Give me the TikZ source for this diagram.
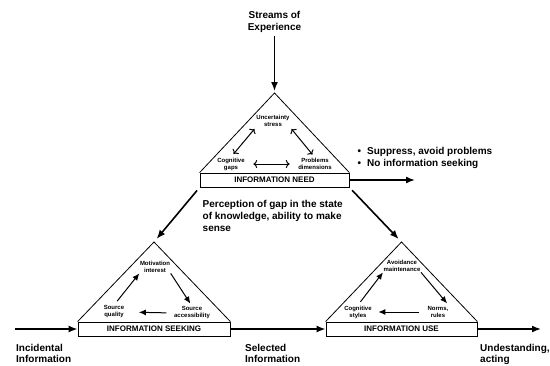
\documentclass[tikz,border=0pt]{standalone}
\usepackage{fontspec}
\setmainfont{Liberation Sans}
\usetikzlibrary{arrows.meta}

\begin{document}
\begin{tikzpicture}[x=1pt,y=-1pt,
	bigarrow/.style={line width=1.6pt,-{Latex[length=9pt,width=7pt]}},
	smallarrow/.style={line width=1pt,-{Latex[length=7pt,width=6pt]}},
	stagebox/.style={draw,line width=0.8pt,minimum width=#1,minimum height=14pt,inner sep=0pt,font=\fontsize{8}{9}\selectfont\bfseries},
	smalltext/.style={align=center,inner sep=0.5pt,font=\fontsize{6}{7}\selectfont\bfseries},
	bigtext/.style={align=left,inner sep=0pt,anchor=north west,font=\fontsize{10}{12}\selectfont\bfseries},
	endtext/.style={bigtext,font=\fontsize{10}{11}\selectfont\bfseries}]
	\useasboundingbox (0,0) rectangle (550,365);

	\node[stagebox=149] (needbox) at (274.5,180) {INFORMATION NEED};
	\node[stagebox=152] (seekbox) at (154,329) {INFORMATION SEEKING};
	\node[stagebox=151] (usebox) at (401.5,329) {INFORMATION USE};
	\coordinate (needtop) at (274.5,93);
	\coordinate (seektop) at (154,242);
	\coordinate (usetop) at (401.5,242);

	\draw[line width=0.8pt] (needbox.north west) -- (needtop) -- (needbox.north east);
	\draw[line width=0.8pt] (seekbox.north west) -- (seektop) -- (seekbox.north east);
	\draw[line width=0.8pt] (usebox.north west) -- (usetop) -- (usebox.north east);

	\node[smalltext] (uncert) at (273,121) {Uncertainty\\stress};
	\node[smalltext] (cognit) at (231,164) {Cognitive\\gaps};
	\node[smalltext] (problems) at (315,164) {Problems\\dimensions};
	\draw[smallarrow,<->,shorten <=2pt,shorten >=4pt] (uncert.south west) -- (cognit.north);
	\draw[smallarrow,<->,shorten <=2pt,shorten >=4pt] (uncert.south east) -- (problems.north);
	\draw[smallarrow,<->,shorten <=8pt,shorten >=8pt] (cognit) -- (problems);

	\node[smalltext] (motiv) at (155,267) {Motivation\\interest};
	\node[smalltext] (quality) at (114,312) {Source\\quality};
	\node[smalltext] (access) at (192,313) {Source\\accessibility};
	\draw[smallarrow,shorten <=5pt] (quality.north) -- (motiv.south west);
	\draw[smallarrow,shorten >=3pt] (motiv.south east) -- (access.north);
	\draw[smallarrow,shorten <=7pt,shorten >=14pt] (access.west) -- (quality.east);

	\node[smalltext] (avoid) at (402,266) {Avoidance\\maintenance};
	\node[smalltext] (cogsty) at (358,312) {Cognitive\\styles};
	\node[smalltext] (norms) at (438,312) {Norms,\\rules};
	\draw[smallarrow,shorten <=4pt] (cogsty.north) -- (avoid.south west);
	\draw[smallarrow,shorten >=3pt] (avoid.south east) -- (norms.north east);
	\draw[smallarrow,shorten <=8pt,shorten >=6pt] (norms.west) -- (cogsty.east);

	\node[bigtext,anchor=north,align=center] (streams) at (274.5,11) {Streams of\\Experience};
	\node[bigtext] (perception) at (202.5,200) {Perception of gap in the state\\of knowledge, ability to make\\sense};
	\node[bigtext] (bullets) at (357.5,147.5) {\textbullet\hspace{6pt}Suppress, avoid problems\\\textbullet\hspace{6pt}No information seeking};
	\node[endtext] (incidental) at (16,344) {Incidental\\Information};
	\node[endtext] (selected) at (245,344) {Selected\\Information};
	\node[endtext] (undest) at (480,344) {Undestanding,\\acting};
	\coordinate (instart) at (15,329);
	\coordinate (suppress) at (415,180);
	\coordinate (outend) at (541,329);

	\draw[bigarrow,shorten <=3pt,shorten >=2pt] (streams.south) -- (needtop);
	\draw[bigarrow] (needbox.east) -- (suppress);
	\draw[bigarrow,shorten <=4pt,shorten >=4pt] (needbox.south west) -- (seektop);
	\draw[bigarrow,shorten <=4pt,shorten >=4pt] (needbox.south east) -- (usetop);
	\draw[bigarrow] (instart) -- (seekbox.west);
	\draw[bigarrow] (seekbox.east) -- (usebox.west);
	\draw[bigarrow] (usebox.east) -- (outend);
\end{tikzpicture}
\end{document}
